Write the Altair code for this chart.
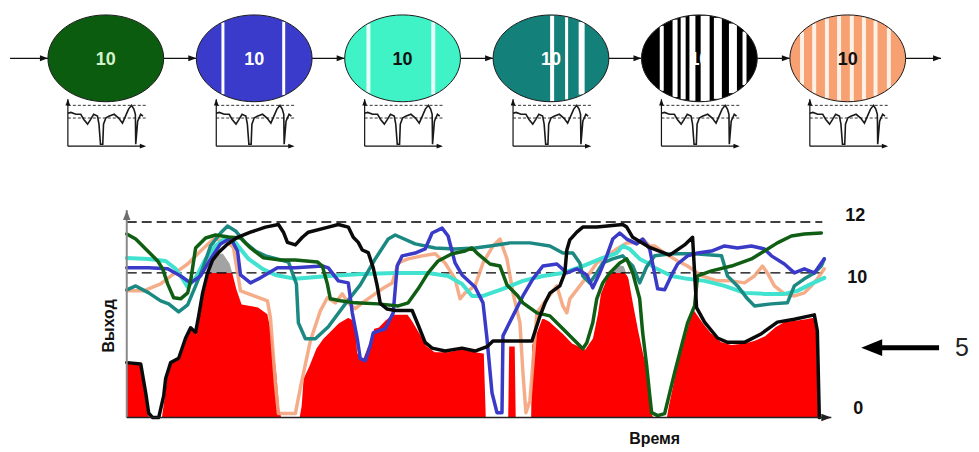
import altair as alt
import pandas as pd

# ================= upper diagram: six processing stages =================
stage_no = [1, 2, 3, 4, 5, 6]
stage_fill = ["#0c5c10", "#3a3acb", "#3ff3c6", "#13807a", "#000000", "#f7a072"]
stage_text_color = ["#d4f2cc", "#ffffff", "#111111", "#ffffff", "#ffffff", "#111111"]
stage_text = ["10", "10", "10", "10", "10", "10"]

# vertical stripes inside the ovals (stage, offset as share of half-width, px width)
stripe_stage = [2, 2, 3, 3, 4, 4, 4, 5, 5, 5, 5, 5, 5, 5, 5, 6, 6, 6, 6, 6, 6, 6, 6]
stripe_offset = [-0.54, 0.51, -0.59, 0.53, 0.02, 0.27, 0.53,
                 -0.65, -0.42, -0.28, -0.12, 0.10, 0.32, 0.58, 0.78,
                 -0.79, -0.58, -0.36, -0.15, 0.07, 0.28, 0.48, 0.71]
stripe_px = [3, 3, 4, 4, 4, 3, 6, 4, 5, 5, 6, 9, 8, 8, 4, 4, 4, 4, 4, 4, 4, 4, 4]
stripe_color = ["#ffffff"] * 2 + ["#e6fff8"] * 2 + ["#ffffff"] * 3 + ["#ffffff"] * 8 + ["#fff0e6"] * 8

# small sketch under each stage (share of its box)
mini_x = [0, 0.04, 0.105, 0.17, 0.21, 0.26, 0.30, 0.34, 0.39, 0.41, 0.43, 0.46, 0.47, 0.50,
          0.54, 0.61, 0.67, 0.72, 0.76, 0.80, 0.84, 0.87, 0.89, 0.895, 0.92, 0.96, 0.99]
mini_y = [0.70, 0.72, 0.68, 0.68, 0.57, 0.47, 0.57, 0.68, 0.64, 0.47, 0.04, 0.04, 0.47, 0.60,
          0.64, 0.68, 0.60, 0.49, 0.64, 0.79, 0.87, 0.79, 0.68, 0.04, 0.53, 0.68, 0.64]
mini_ref = [0.87, 0.60]

# ================= lower chart: output over time =================
red_t = [0, 14, 19, 22, 24, 34, 37, 39, 44, 52, 59, 64, 69, 72, 76, 81, 86, 92, 97, 104,
         107, 111, 116, 132, 142, 147, 151, 154, 156, 172, 174, 176, 182, 189, 196, 202, 212, 222, 227, 231,
         232, 236, 241, 244, 247, 252, 259, 266, 282, 287, 294, 301, 309, 322, 336, 349, 359, 361, 381, 382,
         390, 391, 404, 405, 416, 424, 437, 447, 459, 466, 471, 474, 481, 487, 494, 499, 504, 509, 514, 519,
         524, 527, 529, 540, 542, 549, 556, 562, 567, 572, 579, 586, 596, 606, 619, 629, 639, 649, 659, 672,
         682, 689, 692, 694]
red_v = [3.8, 3.7, 1.7, 0.3, 0, 0, 1.5, 2.7, 3.8, 4.1, 5.5, 6.2, 5.9, 7.0, 8.6, 10.0, 10.5, 10.8, 10.8, 10.4,
         10.0, 8.9, 7.9, 7.7, 7.2, 5.5, 3.1, 0.6, 0, 0, 0.8, 2.7, 3.6, 4.8, 5.5, 5.9, 6.6, 7.0, 6.8, 5.9,
         4.5, 4.1, 5.0, 5.5, 6.2, 6.3, 6.8, 7.2, 7.2, 6.7, 5.9, 5.0, 4.6, 4.6, 4.8, 4.6, 4.5, 0, 0, 5.0,
         5.0, 0, 0, 5.0, 7.0, 6.7, 5.9, 5.2, 4.8, 5.5, 7.2, 8.6, 9.8, 10.2, 10.35, 10.3, 9.6, 7.7, 5.9, 4.3,
         3.1, 0.3, 0, 0, 0.8, 3.1, 5.0, 6.5, 7.7, 7.2, 6.5, 5.9, 5.3, 5.1, 5.2, 5.4, 5.7, 6.3, 6.7, 6.8,
         6.9, 7.0, 6.0, 0]

black_t = [0, 14, 19, 22, 26, 32, 37, 39, 44, 52, 59, 64, 69, 72, 76, 81, 86, 92, 100, 111,
           124, 139, 152, 157, 161, 169, 176, 182, 202, 212, 222, 227, 232, 236, 242, 247, 251, 254, 261, 269,
           286, 292, 299, 306, 319, 336, 349, 361, 367, 406, 414, 419, 424, 434, 439, 441, 444, 451, 457, 471,
           497, 501, 507, 524, 544, 559, 567, 571, 579, 592, 602, 619, 636, 652, 669, 689, 692, 694]
black_v = [3.8, 3.7, 1.7, 0.3, 0, 0, 1.5, 2.7, 3.8, 4.1, 5.5, 6.2, 5.9, 7.0, 8.6, 10.0, 10.5, 10.8, 11.1, 11.4,
           11.6, 11.8, 11.9, 11.6, 11.2, 11.1, 11.4, 11.6, 11.8, 11.9, 11.8, 11.4, 11.2, 10.9, 10.8, 10.2, 9.1, 7.9, 7.5, 7.4,
           7.4, 6.4, 5.2, 4.8, 4.6, 4.8, 4.6, 4.9, 5.3, 5.3, 7.0, 7.9, 8.6, 9.1, 10.0, 10.9, 11.3, 11.6, 11.8, 11.8,
           11.9, 11.8, 11.4, 11.0, 10.7, 11.1, 11.4, 7.6, 6.6, 5.5, 5.2, 5.2, 5.8, 6.6, 6.8, 7.1, 6.0, 0]

blue_t = [0, 22, 41, 54, 64, 74, 84, 94, 104, 111, 114, 124, 134, 151, 169, 196, 202, 212, 222, 226,
          231, 234, 239, 244, 247, 259, 267, 271, 276, 289, 299, 306, 316, 322, 329, 336, 349, 357, 361, 366,
          371, 376, 377, 387, 397, 407, 417, 431, 441, 451, 461, 467, 474, 481, 487, 494, 501, 511, 517, 524,
          526, 532, 539, 546, 552, 562, 572, 586, 599, 612, 626, 639, 646, 659, 669, 679, 689, 696, 699]
blue_v = [10.2, 10.2, 10.16, 9.79, 9.31, 9.79, 10.55, 11.14, 11.37, 10.86, 9.86, 9.31, 9.66, 10.2, 10.2, 10.27, 10.2, 9.45, 9.31, 7.24,
          5.45, 4.07, 3.93, 4.97, 5.86, 6.14, 7.24, 10.27, 10.67, 10.78, 10.94, 11.57, 11.76, 11.45, 10.39, 9.86, 9.03, 7.93, 5.45, 1.72,
          0.34, 0.34, 5.66, 7.03, 8.41, 9.59, 10.27, 10.35, 10.0, 10.16, 9.86, 8.97, 10.0, 10.67, 11.33, 11.57, 11.33, 11.14, 11.33, 10.94,
          10.55, 8.9, 8.83, 9.86, 10.35, 10.67, 10.78, 10.86, 11.06, 10.98, 11.06, 10.94, 10.67, 10.35, 10.0, 10.16, 10.0, 10.39, 10.55]

salmon_t = [0, 17, 34, 47, 61, 74, 87, 101, 107, 114, 141, 144, 149, 152, 169, 174, 184, 194, 201, 209,
            216, 222, 229, 236, 246, 256, 266, 272, 282, 296, 309, 319, 329, 334, 339, 349, 357, 367, 374, 381,
            387, 394, 397, 400, 404, 411, 421, 431, 437, 441, 444, 454, 464, 471, 481, 491, 501, 511, 517, 524,
            529, 539, 552, 562, 576, 592, 606, 619, 629, 637, 642, 649, 659, 669, 679, 686, 692, 699]
salmon_v = [8.76, 8.76, 9.24, 9.93, 10.35, 10.86, 11.33, 11.25, 10.98, 8.76, 8.07, 6.9, 2.34, 0.28, 0.28, 2.07, 5.31, 7.38, 8.28, 7.93,
            8.55, 7.93, 7.52, 7.93, 8.41, 8.9, 9.31, 10.39, 10.55, 10.67, 10.75, 10.39, 9.59, 8.21, 8.62, 9.1, 10.39, 11.06, 11.33, 10.55,
            8.62, 6.55, 3.1, 0.34, 1.17, 7.24, 8.21, 9.1, 7.72, 7.24, 8.21, 9.1, 10.0, 10.39, 10.67, 10.94, 11.18, 11.18, 11.33, 11.06,
            11.06, 10.78, 10.47, 10.27, 9.79, 9.45, 9.45, 9.31, 9.79, 10.27, 10.0, 9.1, 8.55, 8.41, 8.62, 9.1, 9.59, 10.16]

aqua_t = [0, 22, 39, 49, 56, 61, 69, 79, 89, 99, 109, 122, 136, 149, 169, 202, 236, 269, 302, 322,
          336, 346, 357, 377, 397, 417, 437, 457, 477, 491, 497, 504, 514, 524, 529, 546, 562, 579, 599, 619,
          639, 659, 672, 686, 699]
aqua_v = [10.59, 10.55, 10.47, 10.16, 9.59, 9.03, 9.66, 10.55, 11.06, 11.37, 11.18, 10.55, 10.16, 9.86, 9.59, 9.79, 9.93, 10.0, 10.0, 9.79,
          9.24, 8.41, 8.41, 8.9, 9.45, 9.79, 10.0, 10.27, 10.59, 10.78, 11.06, 10.94, 10.55, 10.35, 10.2, 9.79, 9.59, 9.45, 9.1, 8.62,
          8.55, 8.55, 8.76, 9.24, 9.66]

teal_t = [0, 9, 22, 34, 42, 52, 61, 69, 76, 84, 94, 101, 109, 119, 129, 139, 162, 170, 172, 179,
          189, 202, 219, 234, 249, 262, 269, 289, 309, 329, 349, 364, 384, 404, 424, 437, 447, 454, 457, 464,
          471, 477, 487, 497, 507, 514, 521, 529, 546, 569, 596, 602, 612, 622, 629, 646, 662, 669, 679, 689,
          696, 699]
teal_v = [8.83, 9.1, 8.62, 8.07, 7.86, 7.31, 7.79, 9.1, 10.16, 11.06, 11.57, 11.84, 11.65, 11.18, 10.86, 10.67, 10.43, 9.24, 6.55, 5.45,
          5.45, 6.28, 7.86, 9.17, 10.55, 11.33, 11.49, 11.14, 10.98, 10.94, 10.98, 11.06, 11.18, 11.18, 11.06, 10.78, 10.78, 10.39, 9.79, 9.31,
          10.0, 10.39, 10.55, 10.67, 10.27, 9.31, 10.24, 10.67, 10.75, 10.75, 10.67, 9.79, 9.1, 8.21, 7.72, 7.86, 7.93, 9.1, 9.59, 10.0,
          10.27, 10.55]

green_t = [0, 9, 19, 31, 36, 41, 47, 54, 61, 64, 69, 79, 89, 102, 114, 124, 137, 154, 169, 191,
           196, 201, 204, 214, 229, 252, 272, 282, 292, 302, 312, 326, 339, 346, 351, 364, 374, 381, 391, 397,
           411, 424, 437, 447, 457, 461, 467, 471, 477, 484, 494, 501, 507, 514, 517, 521, 524, 526, 532, 539,
           549, 556, 562, 569, 572, 586, 606, 626, 639, 652, 666, 679, 696]
green_v = [11.53, 11.33, 10.94, 10.47, 10.16, 9.24, 8.28, 8.21, 8.62, 9.45, 10.98, 11.37, 11.49, 11.41, 11.37, 10.98, 10.59, 10.51, 10.51, 10.43,
           10.27, 9.24, 8.21, 8.07, 7.93, 7.86, 7.72, 7.93, 8.9, 10.0, 10.47, 10.75, 10.86, 10.98, 10.78, 10.35, 10.27, 9.17, 8.48, 7.93,
           7.24, 7.03, 6.14, 5.45, 4.76, 5.17, 6.55, 8.21, 9.31, 10.0, 10.39, 10.55, 10.0, 8.21, 5.86, 3.59, 1.59, 0.34, 0.14, 0.28,
           3.1, 4.97, 6.55, 7.72, 9.79, 10.08, 10.27, 10.55, 10.86, 11.18, 11.45, 11.53, 11.57]

limit_levels = [10, 12]
level_labels = ["12", "10", "0"]
level_label_v = [12.24, 9.66, 0.62]
t_end = 697
x_title = "Время"
y_title = "Выход"
marker_text = "5"
marker_v = 4.83

FONT = "Liberation Sans"

# ---------------- upper panel ----------------
STAGE_PX = 148.7
HALF_W = 58 / STAGE_PX
UNIT_Y = 43.5
XT = alt.Scale(domain=[0.3477, 6.8238], nice=False, zero=False)
YT = alt.Scale(domain=[-2.322, 1.126], nice=False, zero=False)


def xt(f):
    return alt.X(f, type="quantitative", scale=XT, axis=None)


def yt(f):
    return alt.Y(f, type="quantitative", scale=YT, axis=None)


ell = pd.DataFrame({"stage": stage_no, "y": [0.0] * 6, "fill": stage_fill,
                    "tcol": stage_text_color, "label": stage_text})
ELL = "M -1 0 A 1 0.75 0 1 0 1 0 A 1 0.75 0 1 0 -1 0 Z"
ell_fill = alt.Chart(ell).mark_point(shape=ELL, size=116 ** 2, filled=True, opacity=1, strokeWidth=0).encode(
    x=xt("stage"), y=yt("y"), fill=alt.Fill("fill:N", scale=None))
ell_line = alt.Chart(ell).mark_point(shape=ELL, size=116 ** 2, filled=False, opacity=1,
                                     color="#1a1a1a", strokeWidth=1).encode(x=xt("stage"), y=yt("y"))
ell_text = alt.Chart(ell).transform_calculate(ty="-0.05").mark_text(
    font=FONT, fontSize=18, fontWeight="bold", align="center", baseline="middle").encode(
    x=xt("stage"), y=yt("ty"), text="label:N", color=alt.Color("tcol:N", scale=None))

st = pd.DataFrame({"stage": stripe_stage, "off": stripe_offset, "w": stripe_px, "c": stripe_color})
st["x"] = st["stage"] + st["off"] * HALF_W
st["yt"] = (1 - st["off"] ** 2) ** 0.5 * 0.985
st["yb"] = -st["yt"]
stripes = alt.Chart(st).mark_rule().encode(
    x=xt("x"), y=yt("yb"), y2="yt", strokeWidth=alt.StrokeWidth("w:Q", scale=None),
    color=alt.Color("c:N", scale=None))

# connectors with arrowheads
conn = pd.DataFrame({
    "x0": [0.355] + [s + HALF_W for s in stage_no],
    "x1": [s - HALF_W for s in stage_no] + [1 + (942 - 105) / STAGE_PX],
    "y": [0.0] * 7})
conn["xh"] = conn["x1"] - 4 / STAGE_PX
conn_rule = alt.Chart(conn).mark_rule(color="#111111", strokeWidth=1.2).encode(x=xt("x0"), x2="x1", y=yt("y"))
HEAD_R = "M 1 0 L -1 -0.75 L -1 0.75 Z"
HEAD_U = "M 0 -1 L 0.75 1 L -0.75 1 Z"
HEAD_L = "M -1 0 L 1 -0.8 L 1 0.8 Z"
conn_head = alt.Chart(conn).mark_point(shape=HEAD_R, size=64, filled=True, opacity=1, color="#111111").encode(
    x=xt("xh"), y=yt("y"))

# mini sketches
MX0, MW = -38 / STAGE_PX, 76 / STAGE_PX
MY0, MH = -(145 - 57) / UNIT_Y, 47 / UNIT_Y
rows = []
for s in stage_no:
    for i, (mx, my) in enumerate(zip(mini_x, mini_y)):
        rows.append({"stage": s, "i": i, "x": s + MX0 + mx * MW, "y": MY0 + my * MH})
mini = pd.DataFrame(rows)
mini_line = alt.Chart(mini).mark_line(color="#1a1a1a", strokeWidth=1.6).encode(
    x=xt("x"), y=yt("y"), detail="stage:N", order="i:Q")
ax = pd.DataFrame({"stage": stage_no})
ax["xa"] = ax["stage"] + MX0
ax["xb"] = ax["stage"] + MX0 + 1.0 * MW
ax["xtip"] = ax["stage"] + MX0 + 1.03 * MW - 3 / STAGE_PX
ax["ya"] = MY0
ax["yb"] = MY0 + 1.0 * MH
ax["ytip"] = MY0 + 1.0 * MH - 3 / UNIT_Y
mini_xaxis = alt.Chart(ax).mark_rule(color="#111111", strokeWidth=1.2).encode(x=xt("xa"), x2="xb", y=yt("ya"))
mini_yaxis = alt.Chart(ax).mark_rule(color="#111111", strokeWidth=1.2).encode(x=xt("xa"), y=yt("ya"), y2="yb")
mini_xhead = alt.Chart(ax).mark_point(shape=HEAD_R, size=40, filled=True, opacity=1, color="#111111").encode(
    x=xt("xtip"), y=yt("ya"))
mini_yhead = alt.Chart(ax).mark_point(shape=HEAD_U, size=40, filled=True, opacity=1, color="#111111").encode(
    x=xt("xa"), y=yt("ytip"))
refrows = []
for s in stage_no:
    for r in mini_ref:
        refrows.append({"x0": s + MX0, "x1": s + MX0 + 1.05 * MW, "y": MY0 + r * MH})
mini_ref_df = pd.DataFrame(refrows)
mini_dash = alt.Chart(mini_ref_df).mark_rule(color="#333333", strokeWidth=1, strokeDash=[3, 2]).encode(
    x=xt("x0"), x2="x1", y=yt("y"))

top = alt.layer(conn_rule, conn_head, ell_fill, stripes, ell_line, ell_text,
                mini_dash, mini_line, mini_xaxis, mini_yaxis, mini_xhead, mini_yhead).properties(
    width=963, height=150)

# ---------------- lower panel ----------------
XB = alt.Scale(domain=[-118, 845], nice=False, zero=False)
YB = alt.Scale(domain=[-1.862, 10, 14.47], range=[286, 114, 0], nice=False, zero=False)


def xb(f):
    return alt.X(f, type="quantitative", scale=XB, axis=None)


def yb(f):
    return alt.Y(f, type="quantitative", scale=YB, axis=None)


red = pd.DataFrame({"t": red_t, "v": red_v})
red["vr"] = red["v"].clip(upper=10)
red["vg"] = red["v"].clip(lower=10)
red["zero"] = 0.0
red["ten"] = 10.0
red_area = alt.Chart(red).mark_area(color="#ff0000", opacity=1).encode(x=xb("t"), y=yb("vr"), y2="zero")
grey_area = alt.Chart(red).mark_area(color="#a3a3a3", opacity=1).encode(x=xb("t"), y=yb("vg"), y2="ten")
red_edge = alt.Chart(red.assign(i=range(len(red)))).mark_line(color="#ffffff", strokeWidth=2.5).encode(
    x=xb("t"), y=yb("v"), order="i:Q")

lev = pd.DataFrame({"v": limit_levels, "t0": [0, 0], "t1": [t_end, t_end]})
dashes = alt.Chart(lev).mark_rule(color="#000000", strokeWidth=1.3, strokeDash=[10, 5]).encode(
    x=xb("t0"), x2="t1", y=yb("v"))


def series(t, v, color, width, opacity=1.0):
    df = pd.DataFrame({"t": t, "v": v, "i": range(len(t))})
    return alt.Chart(df).mark_line(color=color, strokeWidth=width, opacity=opacity,
                                   strokeJoin="round", strokeCap="round").encode(
        x=xb("t"), y=yb("v"), order="i:Q")


l_salmon = series(salmon_t, salmon_v, "#f4a47c", 3.5, 0.9)
l_aqua = series(aqua_t, aqua_v, "#41e2cf", 4)
l_teal = series(teal_t, teal_v, "#1c8882", 3.5)
l_blue = series(blue_t, blue_v, "#3a3ac8", 3.5)
l_green = series(green_t, green_v, "#0f5e14", 3.5)
l_black = series(black_t, black_v, "#0a0a0a", 3.5)

axes = pd.DataFrame({"t0": [0], "t1": [706], "v0": [0.0], "v1": [12.47],
                     "thead": [701], "vhead": [12.27]})
y_axis = alt.Chart(axes).mark_rule(color="#8a8a8a", strokeWidth=2).encode(x=xb("t0"), y=yb("v0"), y2="v1")
y_head = alt.Chart(axes).mark_point(shape=HEAD_U, size=100, filled=True, opacity=1, color="#6f6f6f").encode(
    x=xb("t0"), y=yb("vhead"))
x_axis = alt.Chart(axes).mark_rule(color="#222222", strokeWidth=1.5).encode(x=xb("t0"), x2="t1", y=yb("v0"))
x_head = alt.Chart(axes).mark_point(shape=HEAD_R, size=100, filled=True, opacity=1, color="#222222").encode(
    x=xb("thead"), y=yb("v0"))

labs = pd.DataFrame({"text": level_labels, "v": level_label_v, "t": [730, 732, 733]})
lab_text = alt.Chart(labs).mark_text(font=FONT, fontSize=18, fontWeight="bold", align="center",
                                     baseline="middle", color="#111111").encode(x=xb("t"), y=yb("v"), text="text:N")

titles = pd.DataFrame({"text": [x_title], "t": [529], "v": [-1.45]})
x_title_mark = alt.Chart(titles).mark_text(font=FONT, fontSize=16, fontWeight="bold", align="center",
                                           baseline="middle", color="#111111").encode(x=xb("t"), y=yb("v"), text="text:N")
ytitles = pd.DataFrame({"text": [y_title], "t": [-18], "v": [6.34]})
y_title_mark = alt.Chart(ytitles).mark_text(font=FONT, fontSize=16, fontWeight="bold", align="center",
                                            baseline="middle", angle=270, color="#111111").encode(
    x=xb("t"), y=yb("v"), text="text:N")

mk = pd.DataFrame({"t0": [755], "t1": [814], "th": [746.5], "tt": [837], "v": [marker_v], "text": [marker_text]})
mk_shaft = alt.Chart(mk).mark_rule(color="#000000", strokeWidth=5).encode(x=xb("t0"), x2="t1", y=yb("v"))
mk_head = alt.Chart(mk).mark_point(shape=HEAD_L, size=441, filled=True, opacity=1, color="#000000").encode(
    x=xb("th"), y=yb("v"))
mk_text = alt.Chart(mk).mark_text(font=FONT, fontSize=25, align="center", baseline="middle",
                                  color="#222222").encode(x=xb("tt"), y=yb("v"), text="text:N")

bottom = alt.layer(red_area, grey_area, red_edge, dashes, l_salmon, l_aqua, l_teal, l_blue, l_green, l_black,
                   y_axis, y_head, x_axis, x_head, lab_text, x_title_mark, y_title_mark,
                   mk_shaft, mk_head, mk_text).properties(width=963, height=286)

chart = alt.vconcat(top, bottom, spacing=0, bounds="flush").properties(padding=0).configure_view(
    stroke="transparent")

chart.save("out.html", embed_options={"renderer": "svg", "actions": False})
